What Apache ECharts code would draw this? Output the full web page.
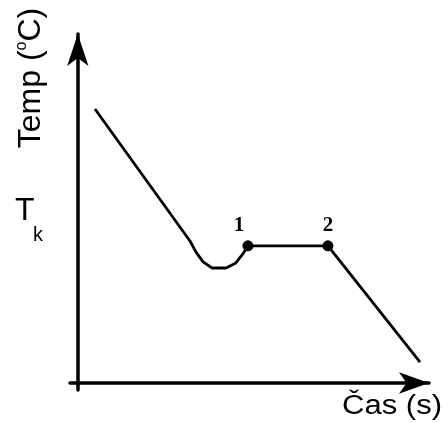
<!DOCTYPE html>
<html>
<head>
<meta charset="utf-8">
<script src="https://cdn.jsdelivr.net/npm/echarts@6/dist/echarts.min.js"></script>
<style>
  html, body { margin: 0; padding: 0; background: #ffffff; }
  #chart { width: 448px; height: 423px; }
</style>
</head>
<body>
<div id="chart"></div>
<script>
// Cooling curve: temperature vs. time, with a plateau between points 1 and 2
const timeX = [4.4, 28.75, 30.3, 32.1, 34.4, 38.0, 40.5, 42.3, 43.6, 64.1, 87.7];
const tempY = [78.5, 40.7, 37.5, 34.7, 32.95, 32.95, 34.4, 37.0, 39.3, 39.3, 6.0];

// Marked points at the start and end of the plateau
const pointLabels = ['1', '2'];
const pointX = [43.6, 64.1];
const pointY = [39.3, 39.3];
const pointOffsets = [[-9, -20], [0, -20]];

const curveData = timeX.map((x, i) => [x, tempY[i]]);
const pointData = pointX.map((x, i) => ({
  value: [x, pointY[i]],
  label: { formatter: pointLabels[i], offset: pointOffsets[i] }
}));

const chart = echarts.init(document.getElementById('chart'), null, { renderer: 'canvas' });

const axisCommon = {
  type: 'value',
  axisTick: { show: false },
  axisLabel: { show: false },
  splitLine: { show: false }
};

chart.setOption({
  animation: false,
  backgroundColor: '#ffffff',
  grid: { left: 70, top: 34, width: 359, height: 356 },
  xAxis: Object.assign({}, axisCommon, {
    min: -2, max: 90,
    axisLine: {
      onZero: true,
      symbol: ['none', 'arrow'],
      symbolSize: [16, 30],
      lineStyle: { color: '#000', width: 3.5 }
    }
  }),
  yAxis: Object.assign({}, axisCommon, {
    min: -2, max: 100,
    axisLine: {
      onZero: true,
      symbol: ['none', 'arrow'],
      symbolSize: [16, 32],
      lineStyle: { color: '#000', width: 3.5 }
    }
  }),
  series: [
    {
      type: 'line',
      data: curveData,
      showSymbol: false,
      lineStyle: { color: '#000', width: 2.8 }
    },
    {
      type: 'scatter',
      data: pointData,
      symbol: 'circle',
      symbolSize: 11,
      itemStyle: { color: '#000', opacity: 1 },
      label: {
        show: true,
        position: 'inside',
        color: '#000',
        fontFamily: 'Liberation Serif',
        fontWeight: 'bold',
        fontSize: 21
      }
    }
  ],
  graphic: [
    {
      type: 'text',
      x: 31, y: 78,
      rotation: Math.PI / 2,
      style: {
        text: '{a|Temp (}{s|o}{a|C)}',
        textAlign: 'center',
        textVerticalAlign: 'middle',
        fill: '#000',
        rich: {
          a: { fontFamily: 'Liberation Sans', fontSize: 32, color: '#000', lineHeight: 35 },
          s: { fontFamily: 'Liberation Sans', fontSize: 16, color: '#000', verticalAlign: 'top', lineHeight: 35 }
        }
      }
    },
    {
      type: 'text',
      x: 15, y: 211,
      style: { text: 'T', fontFamily: 'Liberation Sans', fontSize: 32, fill: '#000', textAlign: 'left', textVerticalAlign: 'middle' }
    },
    {
      type: 'text',
      x: 33, y: 235,
      style: { text: 'k', fontFamily: 'Liberation Sans', fontSize: 20, fill: '#000', textAlign: 'left', textVerticalAlign: 'middle' }
    },
    {
      type: 'text',
      x: 342, y: 407,
      scaleX: 1.15,
      style: { text: 'Čas (s)', fontFamily: 'Liberation Sans', fontSize: 27, fill: '#000', textAlign: 'left', textVerticalAlign: 'middle' }
    }
  ]
});
</script>
</body>
</html>
